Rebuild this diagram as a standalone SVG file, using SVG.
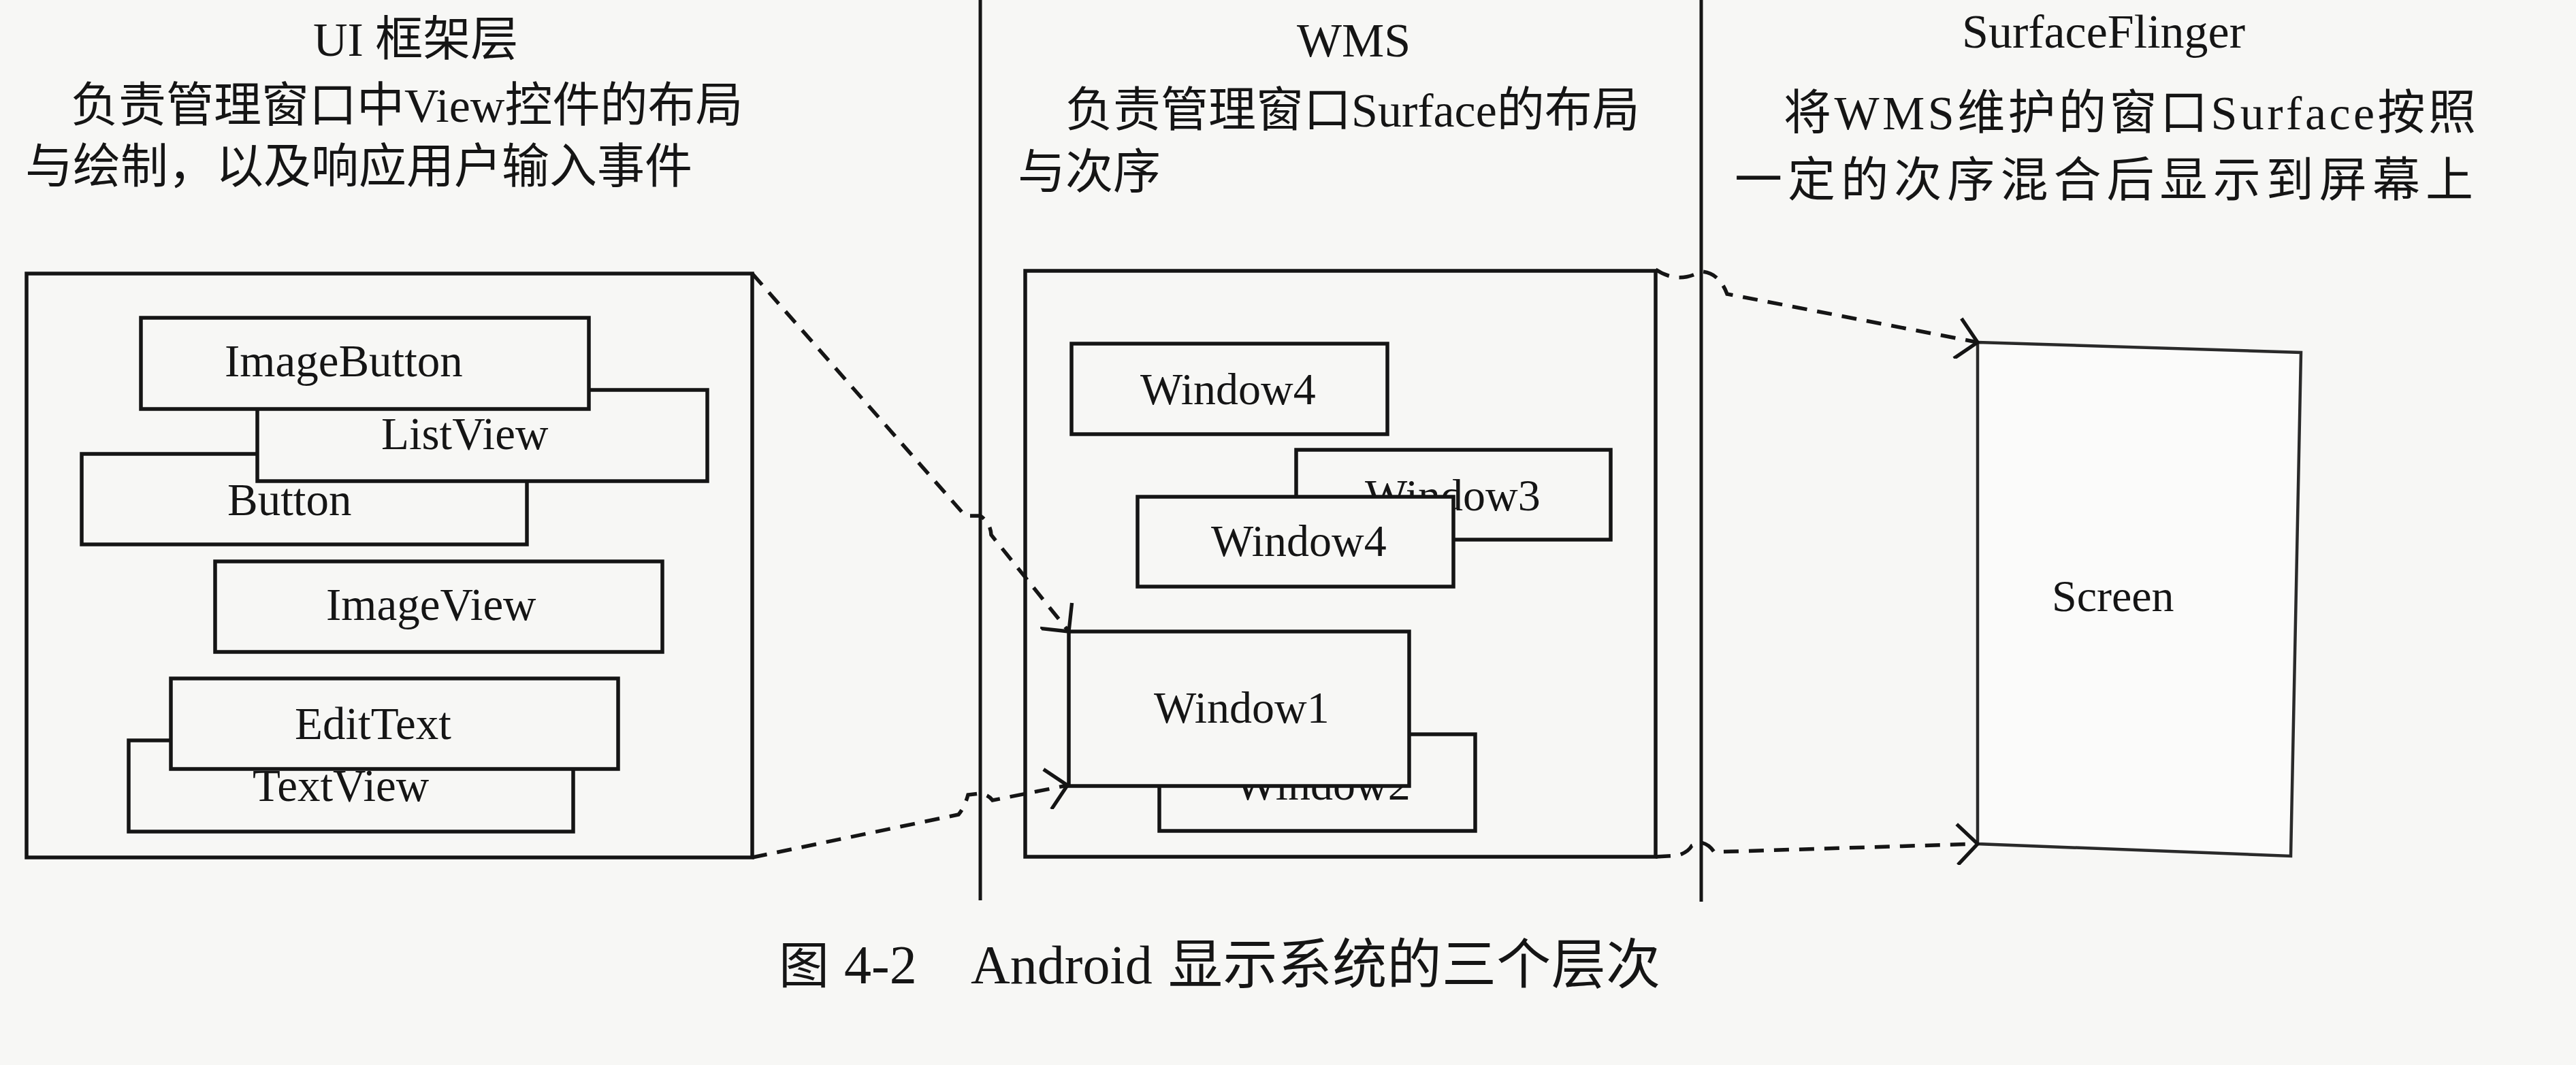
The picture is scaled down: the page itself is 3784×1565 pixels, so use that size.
<svg xmlns="http://www.w3.org/2000/svg" width="3784" height="1565" viewBox="0 0 3784 1565">
<defs>
<style>
.bg{fill:#f7f7f5}
.box{fill:#f7f7f5;stroke:#151515;stroke-width:5.5}
.lbl{font-family:"Liberation Serif","Noto Sans CJK SC",serif;font-size:67px;fill:#151515}
.win{font-family:"Liberation Serif","Noto Sans CJK SC",serif;font-size:66px;fill:#151515}
.hd{font-family:"Liberation Serif","Noto Sans CJK SC",serif;font-size:70px;fill:#151515}
.cap{font-family:"Liberation Serif","Noto Sans CJK SC",serif;font-size:80px;fill:#151515}
.sep{stroke:#151515;stroke-width:5;fill:none}
.dash{fill:none;stroke:#151515;stroke-width:5.5;stroke-dasharray:22 15;marker-end:url(#arr)}
</style>
<marker id="arr" markerUnits="userSpaceOnUse" markerWidth="40" markerHeight="64" refX="28" refY="30" orient="auto" viewBox="-2 -2 34 60">
<path d="M0,2 L28,30 L0,58" fill="none" stroke="#151515" stroke-width="5" stroke-dasharray="none"/>
</marker>
</defs>
<rect class="bg" x="0" y="0" width="3784" height="1565"/>

<g id="separators">
<line class="sep" x1="1440" y1="0" x2="1440" y2="1323"/>
<line class="sep" x1="2499" y1="0" x2="2499" y2="1325"/>
</g>

<g id="headings">
<text class="hd" x="460" y="82">UI 框架层</text>
<text class="hd" x="104" y="179">负责管理窗口中View控件的布局</text>
<text class="hd" x="37" y="269">与绘制，以及响应用户输入事件</text>
<text class="hd" x="1905" y="83" font-size="66">WMS</text>
<text class="hd" x="1565" y="186">负责管理窗口Surface的布局</text>
<text class="hd" x="1495" y="277">与次序</text>
<text class="hd" x="2882" y="70" font-size="74">SurfaceFlinger</text>
<text class="hd" x="2620" y="190" textLength="1017" lengthAdjust="spacing">将WMS维护的窗口Surface按照</text>
<text class="hd" x="2548" y="289" textLength="1085" lengthAdjust="spacing">一定的次序混合后显示到屏幕上</text>
</g>

<g id="ui-frame">
<rect class="box" x="39" y="402" width="1066" height="858"/>
</g>
<g id="button">
<rect class="box" x="120" y="667" width="654" height="133"/>
<text class="lbl" x="334" y="757">Button</text>
</g>
<g id="listview">
<rect class="box" x="378" y="573" width="661" height="134"/>
<text class="lbl" x="560" y="660">ListView</text>
</g>
<g id="imagebutton">
<rect class="box" x="207" y="467" width="658" height="134"/>
<text class="lbl" x="330" y="553">ImageButton</text>
</g>
<g id="imageview">
<rect class="box" x="316" y="825" width="657" height="133"/>
<text class="lbl" x="479" y="911">ImageView</text>
</g>
<g id="textview">
<rect class="box" x="189" y="1088" width="653" height="134"/>
<text class="lbl" x="371" y="1177">TextView</text>
</g>
<g id="edittext">
<rect class="box" x="251" y="997" width="657" height="133"/>
<text class="lbl" x="433" y="1086">EditText</text>
</g>

<g id="wms-frame">
<rect class="box" x="1506" y="398" width="926" height="861"/>
</g>
<g id="window4-top">
<rect class="box" x="1574" y="505" width="464" height="133"/>
<text class="win" x="1675" y="594">Window4</text>
</g>
<g id="window3">
<rect class="box" x="1904" y="661" width="462" height="132"/>
<text class="win" x="2005" y="750">Window3</text>
</g>
<g id="window4-mid">
<rect class="box" x="1671" y="730" width="464" height="132"/>
<text class="win" x="1779" y="817">Window4</text>
</g>
<g id="window2">
<rect class="box" x="1703" y="1079" width="464" height="142"/>
<text class="win" x="1814" y="1175">Window2</text>
</g>
<g id="window1">
<rect class="box" x="1570" y="928" width="500" height="227"/>
<text class="win" x="1695" y="1062">Window1</text>
</g>

<g id="screen">
<polygon points="2905,503 3380,518 3365,1258 2905,1240" fill="#fbfbfa" stroke="#2a2a2a" stroke-width="4.5"/>
<text class="win" x="3014" y="898" font-size="74">Screen</text>
</g>

<g id="connectors">
<path class="dash" d="M1105,402 L1418,758 L1440,758 Q1455,768 1456,786 L1570,928"/>
<path class="dash" d="M1105,1260 L1408,1197 Q1417,1186 1422,1168 L1440,1166 Q1452,1168 1458,1176 L1568,1154"/>
<path class="dash" d="M2432,396 Q2465,418 2498,399 Q2525,400 2537,432 L2905,503"/>
<path class="dash" d="M2432,1259 L2465,1257 Q2480,1252 2485,1243 L2498,1238 Q2510,1240 2518,1252 L2905,1240"/>
</g>

<g id="caption">
<text class="cap" y="1445"><tspan x="1144" font-size="74">图</tspan><tspan x="1240">4-2</tspan><tspan x="1426">Android</tspan><tspan x="1716" textLength="723" lengthAdjust="spacing">显示系统的三个层次</tspan></text>
</g>
</svg>
